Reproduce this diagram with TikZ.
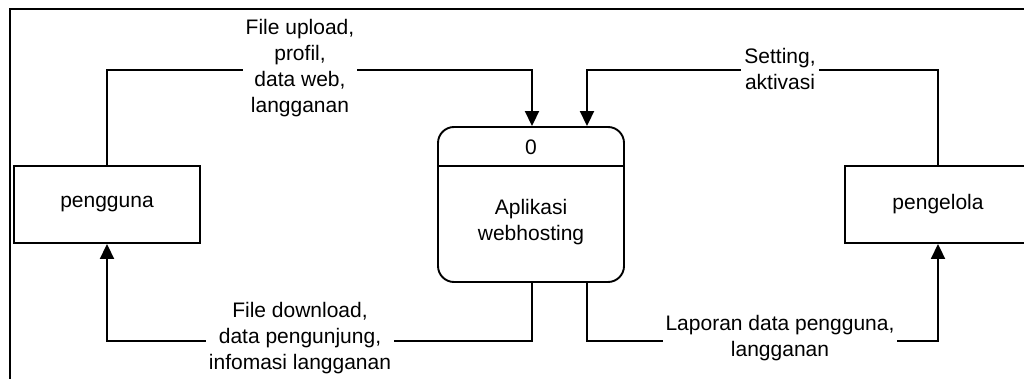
\documentclass[tikz,border=0pt]{standalone}
\usepackage{fontspec}
\setmainfont{Liberation Sans}
\usetikzlibrary{arrows.meta}
\begin{document}
\begin{tikzpicture}[x=1pt,y=-1pt,
  every node/.style={font=\fontsize{21}{26}\selectfont},
  line/.style={line width=1.9pt, black},
  flow/.style={line, -{Triangle[length=15pt,width=14pt]}},
  entity/.style={draw, line width=1.9pt, minimum width=186pt, minimum height=77pt, inner sep=0pt},
  proc/.style={draw, line width=1.9pt, rounded corners=16pt, minimum width=186pt, minimum height=155pt, inner sep=0pt},
  lbl/.style={fill=white, align=center, inner sep=3pt}]
  \clip (0,0) rectangle (1024,379);
  \useasboundingbox (0,0) rectangle (1024,379);
  \fill[white] (0,0) rectangle (1024,379);
  % outer frame
  \draw[line] (10,9) rectangle (1060,420);

  % external entities and the process
  \node[entity] (pengguna) at (107,204.5) {pengguna};
  \node[entity] (pengelola) at (938,204.5) {pengelola};
  \node[proc] (proc) at (531,204.5) {};
  \draw[line] (proc.west |- 0,166) -- (proc.east |- 0,166);
  \node (pnum) at (531,147) {0};
  \node[align=center] (pname) at (531,222) {Aplikasi\\webhosting};

  % bend points of the flows
  \coordinate (t1) at (532,70);
  \coordinate (t2) at (587,70);
  \coordinate (b1) at (532,341);
  \coordinate (b2) at (587,341);

  % flows
  \draw[flow] (pengguna.north) |- (t1) -- (t1 |- proc.north);
  \draw[flow] (pengelola.north) |- (t2) -- (t2 |- proc.north);
  \draw[flow] (b1 |- proc.south) -- (b1) -| (pengguna.south);
  \draw[flow] (b2 |- proc.south) -- (b2) -| (pengelola.south);

  % flow labels
  \node[lbl] (l1) at (300,68.5) {File upload,\\profil,\\data web,\\langganan};
  \node[lbl] (l2) at (780,69) {Setting,\\aktivasi};
  \node[lbl] (l3) at (300,338.5) {File download,\\data pengunjung,\\infomasi langganan};
  \node[lbl] (l4) at (780,338.5) {Laporan data pengguna,\\langganan};
\end{tikzpicture}
\end{document}
